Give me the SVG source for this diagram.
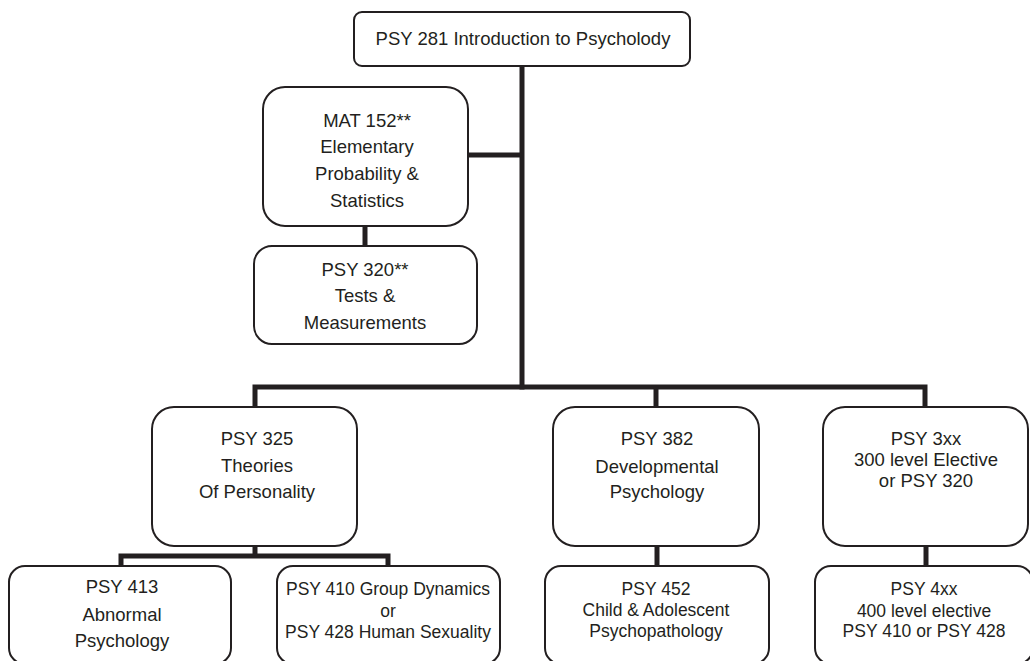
<svg xmlns="http://www.w3.org/2000/svg" width="1030" height="661" viewBox="0 0 1030 661">
<style>
.box{fill:#fff;stroke:#231f20;stroke-width:2}
.t{font-family:"Liberation Sans",Arial,sans-serif;font-size:18.5px;fill:#231f20;text-anchor:middle}
.s{font-size:17.5px}
.c{fill:none;stroke:#231f20;stroke-width:5;stroke-linejoin:miter;stroke-linecap:butt}
</style>
<rect width="1030" height="661" fill="#fff"/>
<g id="connectors">
<path class="c" d="M522,66 V389.5"/>
<path class="c" d="M468,155 H522"/>
<path class="c" d="M365,226 V246"/>
<path class="c" d="M255,407 V387 H925 V407"/>
<path class="c" d="M656,387 V407"/>
<path class="c" d="M255,546 V556"/>
<path class="c" d="M121,566 V556 H388 V566"/>
<path class="c" d="M657,546 V566"/>
<path class="c" d="M926,546 V566"/>
</g>
<g id="psy281">
<rect class="box" x="354" y="12" width="336" height="54" rx="8"/>
<text class="t" x="523" y="45">PSY 281 Introduction to Psycholody</text>
</g>
<g id="mat152">
<rect class="box" x="263" y="87" width="205" height="139" rx="22"/>
<text class="t" x="367" y="127">MAT 152**</text>
<text class="t" x="367" y="153">Elementary</text>
<text class="t" x="367" y="180">Probability &amp;</text>
<text class="t" x="367" y="207">Statistics</text>
</g>
<g id="psy320">
<rect class="box" x="254" y="246" width="223" height="98" rx="18"/>
<text class="t" x="365" y="276">PSY 320**</text>
<text class="t" x="365" y="302">Tests &amp;</text>
<text class="t" x="365" y="329">Measurements</text>
</g>
<g id="psy325">
<rect class="box" x="152" y="407" width="205" height="139" rx="22"/>
<text class="t" x="257" y="445">PSY 325</text>
<text class="t" x="257" y="472">Theories</text>
<text class="t" x="257" y="498">Of Personality</text>
</g>
<g id="psy382">
<rect class="box" x="553" y="407" width="206" height="139" rx="22"/>
<text class="t" x="657" y="445">PSY 382</text>
<text class="t" x="657" y="473">Developmental</text>
<text class="t" x="657" y="498">Psychology</text>
</g>
<g id="psy3xx">
<rect class="box" x="823" y="407" width="205" height="139" rx="22"/>
<text class="t" x="926" y="445">PSY 3xx</text>
<text class="t" x="926" y="466">300 level Elective</text>
<text class="t" x="926" y="487">or PSY 320</text>
</g>
<g id="psy413">
<rect class="box" x="9" y="566" width="222" height="98" rx="16"/>
<text class="t" x="122" y="593">PSY 413</text>
<text class="t" x="122" y="621">Abnormal</text>
<text class="t" x="122" y="647">Psychology</text>
</g>
<g id="psy410">
<rect class="box" x="277" y="566" width="223" height="98" rx="16"/>
<text class="t s" x="388" y="595">PSY 410 Group Dynamics</text>
<text class="t s" x="388" y="617">or</text>
<text class="t s" x="388" y="638">PSY 428 Human Sexuality</text>
</g>
<g id="psy452">
<rect class="box" x="545" y="566" width="224" height="98" rx="16"/>
<text class="t s" x="656" y="595">PSY 452</text>
<text class="t s" x="656" y="616">Child &amp; Adolescent</text>
<text class="t s" x="656" y="637">Psychopathology</text>
</g>
<g id="psy4xx">
<rect class="box" x="815" y="566" width="218" height="98" rx="16"/>
<text class="t s" x="924" y="595">PSY 4xx</text>
<text class="t s" x="924" y="617">400 level elective</text>
<text class="t s" x="924" y="637">PSY 410 or PSY 428</text>
</g>
</svg>
